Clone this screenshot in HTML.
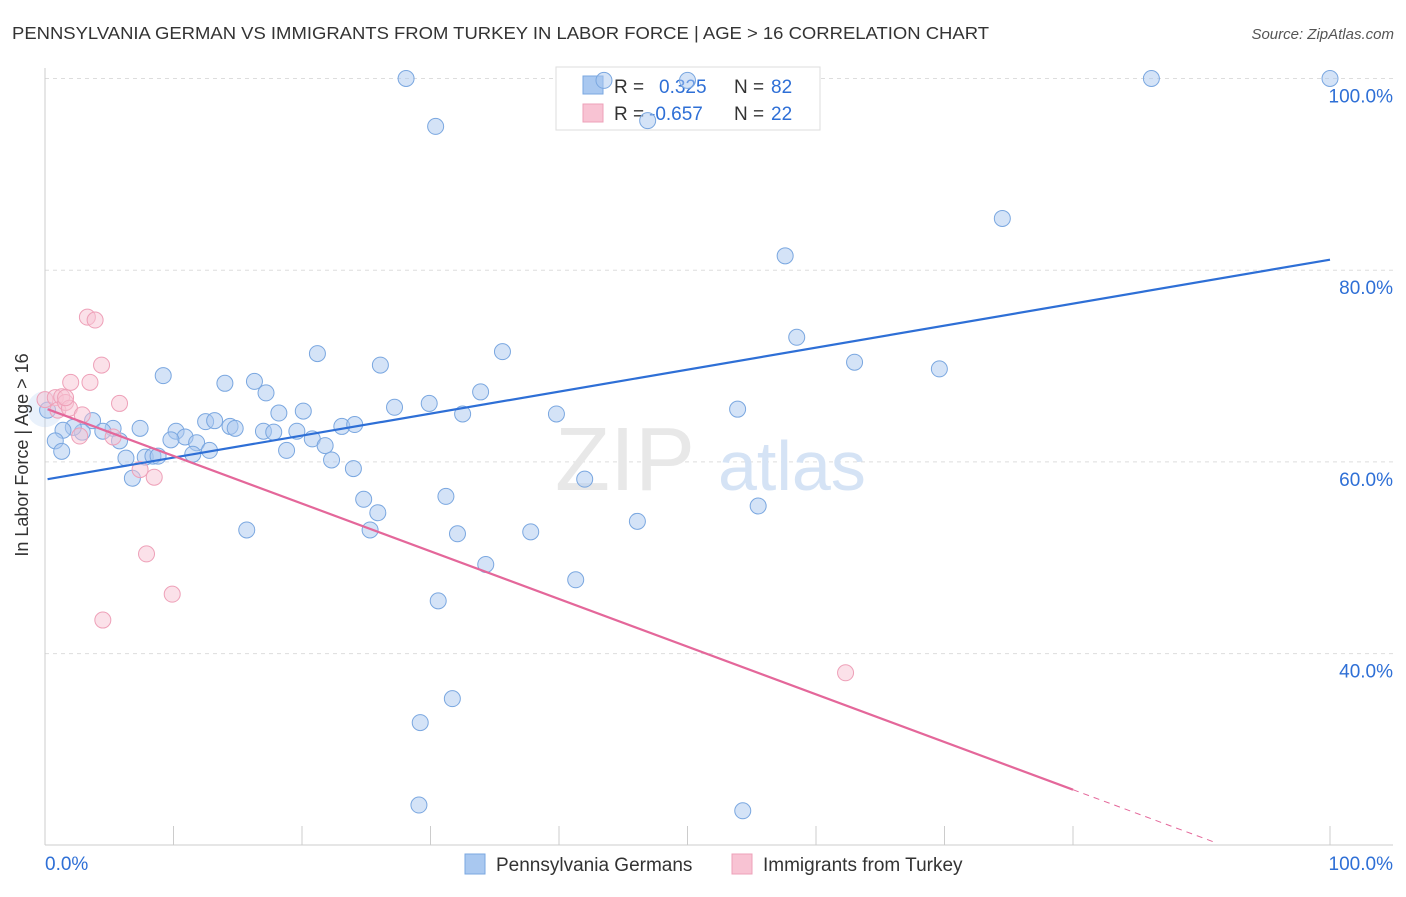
<!DOCTYPE html>
<html><head><meta charset="utf-8"><style>
body{margin:0;background:#fff;font-family:"Liberation Sans",sans-serif}
svg text{font-family:"Liberation Sans",sans-serif}
</style></head><body>
<svg width="1406" height="892" xmlns="http://www.w3.org/2000/svg">
<text x="12" y="39" font-size="17.5" fill="#333" textLength="977" lengthAdjust="spacingAndGlyphs">PENNSYLVANIA GERMAN VS IMMIGRANTS FROM TURKEY IN LABOR FORCE | AGE &gt; 16 CORRELATION CHART</text>
<text x="1394" y="39" font-size="15" fill="#555" font-style="italic" text-anchor="end">Source: ZipAtlas.com</text>
<g id="grid"></g>
<g id="axes"></g>
<text x="555" y="490" font-size="90" fill="#e8e8e8" font-family="Liberation Serif">ZIP</text>
<text x="718" y="490" font-size="70" fill="#d5e3f5">atlas</text>
<g>
<rect x="556" y="67" width="264" height="63" fill="#fff" stroke="#ddd"/>
<rect x="583" y="76" width="20" height="18" fill="#a9c8f0" stroke="#7aa7e0"/>
<rect x="583" y="104" width="20" height="18" fill="#f8c3d3" stroke="#eea0b8"/>
<text x="614" y="93" font-size="19" fill="#333">R = </text><text x="659" y="93" font-size="19" fill="#2e6fd6">0.325</text>
<text x="734" y="93" font-size="19" fill="#333">N = </text><text x="771" y="93" font-size="19" fill="#2e6fd6">82</text>
<text x="614" y="120" font-size="19" fill="#333">R = </text><text x="649" y="120" font-size="19" fill="#2e6fd6">-0.657</text>
<text x="734" y="120" font-size="19" fill="#333">N = </text><text x="771" y="120" font-size="19" fill="#2e6fd6">22</text>
</g>
<g id="pts"></g>
<g id="trends"></g>
<text x="28" y="455" font-size="18" fill="#333" text-anchor="middle" transform="rotate(-90 28 455)">In Labor Force | Age &gt; 16</text>
<g>
<rect x="465" y="854" width="20" height="20" fill="#a9c8f0" stroke="#7aa7e0"/>
<text x="496" y="871" font-size="19" fill="#333">Pennsylvania Germans</text>
<rect x="732" y="854" width="20" height="20" fill="#f8c3d3" stroke="#eea0b8"/>
<text x="763" y="871" font-size="19" fill="#333">Immigrants from Turkey</text>
</g>
<script>
const yTicks=[100,80,60,40];
const yTickLabels=["100.0%","80.0%","60.0%","40.0%"];
const blueX=[28.1,30.4,43.5,46.9,50.0,86.1,100,74.5,57.6,58.5,63.0,69.6,53.9,21.2,26.1,35.6,9.2,14.0,16.3,17.2,33.9,29.9,27.2,32.5,39.8,18.2,20.1,12.5,14.4,14.8,23.1,24.1,17.0,17.8,19.6,20.8,21.8,18.8,10.2,10.9,9.8,11.8,12.8,11.5,13.2,7.4,5.3,3.7,2.9,2.2,1.4,0.8,1.3,4.5,5.8,6.3,7.8,8.4,8.8,6.8,24.0,22.3,42.0,31.2,24.8,25.9,25.3,32.1,37.8,46.1,55.5,15.7,34.3,41.3,30.6,31.7,29.2,29.1,54.3,0.2];
const blueY=[100,95.0,99.8,95.6,99.8,100,100,85.4,81.5,73.0,70.4,69.7,65.5,71.3,70.1,71.5,69.0,68.2,68.4,67.2,67.3,66.1,65.7,65.0,65.0,65.1,65.3,64.2,63.7,63.5,63.7,63.9,63.2,63.1,63.2,62.4,61.7,61.2,63.2,62.6,62.3,62.0,61.2,60.8,64.3,63.5,63.5,64.3,63.1,63.6,63.3,62.2,61.1,63.2,62.2,60.4,60.5,60.6,60.6,58.3,59.3,60.2,58.2,56.4,56.1,54.7,52.9,52.5,52.7,53.8,55.4,52.9,49.3,47.7,45.5,35.3,32.8,24.2,23.6,65.4];
const pinkX=[0,0.8,1.3,1.0,1.6,1.9,2.9,2.7,2.0,3.5,4.4,3.3,3.9,5.8,5.3,7.4,8.5,7.9,9.9,4.5,62.3,1.6];
const pinkY=[66.5,66.7,66.8,65.4,66.2,65.6,64.9,62.7,68.3,68.3,70.1,75.1,74.8,66.1,62.6,59.2,58.4,50.4,46.2,43.5,38.0,66.7];
const blueTrend=[58.2,81.1];
const pinkTrend=[65.6,-0.4975];
const NS="http://www.w3.org/2000/svg";
const X=v=>45+v*12.85, Y=v=>1037-v*9.585;
function mk(t,a,p){const e=document.createElementNS(NS,t);for(const k in a)e.setAttribute(k,a[k]);p.appendChild(e);return e;}
const grid=document.getElementById('grid');
yTicks.forEach((t,i)=>{
 const l=mk('line',{x1:45,x2:1393,y1:Y(t),y2:Y(t),stroke:'#ddd','stroke-dasharray':'4,4'},grid);
 
 
 const tx=mk('text',{x:1393,y:Y(t)+24,'font-size':19,fill:'#2e6fd6','text-anchor':'end'},grid);
 tx.textContent=yTickLabels[i];
 
 
});
const ax=document.getElementById('axes');
mk('line',{x1:45,x2:45,y1:68,y2:845,stroke:'#ccc'},ax);
mk('line',{x1:45,x2:1393,y1:845,y2:845,stroke:'#ccc'},ax);
for(let i=1;i<=10;i++){if(i==9)continue;const t=mk('line',{x1:X(i*10),x2:X(i*10),y1:826,y2:845,stroke:'#ccc'},ax);
 
 }
let t0=mk('text',{x:45,y:870,'font-size':19,fill:'#2e6fd6'},ax);t0.textContent='0.0%';


let t1=mk('text',{x:1393,y:870,'font-size':19,fill:'#2e6fd6','text-anchor':'end'},ax);t1.textContent='100.0%';


const pts=document.getElementById('pts');
mk('circle',{cx:X(0),cy:Y(65.5),r:18,fill:'rgba(169,200,240,0.25)'},pts);
blueX.forEach((x,i)=>{const c=mk('circle',{cx:X(x),cy:Y(blueY[i]),r:8,fill:'rgba(169,200,240,0.5)',stroke:'#7aa7e0','stroke-width':1},pts);
 
 });
pinkX.forEach((x,i)=>{const c=mk('circle',{cx:X(x),cy:Y(pinkY[i]),r:8,fill:'rgba(248,195,211,0.5)',stroke:'#eea0b8','stroke-width':1},pts);
 
 });
const tr=document.getElementById('trends');
let bl=mk('line',{x1:X(0.2),y1:Y(blueTrend[0]),x2:X(100),y2:Y(blueTrend[1]),stroke:'#2e6fd6','stroke-width':2.2},tr);


const pY=x=>pinkTrend[0]+pinkTrend[1]*x;
let pl=mk('line',{x1:X(0.2),y1:Y(pY(0.2)),x2:X(80),y2:Y(pY(80)),stroke:'#e4679a','stroke-width':2.2},tr);


let pd=mk('line',{x1:X(80),y1:Y(pY(80)),x2:X(91),y2:Y(pY(91)),stroke:'#e4679a','stroke-width':1,'stroke-dasharray':'6,5'},tr);


</script>
</svg>
</body></html>
